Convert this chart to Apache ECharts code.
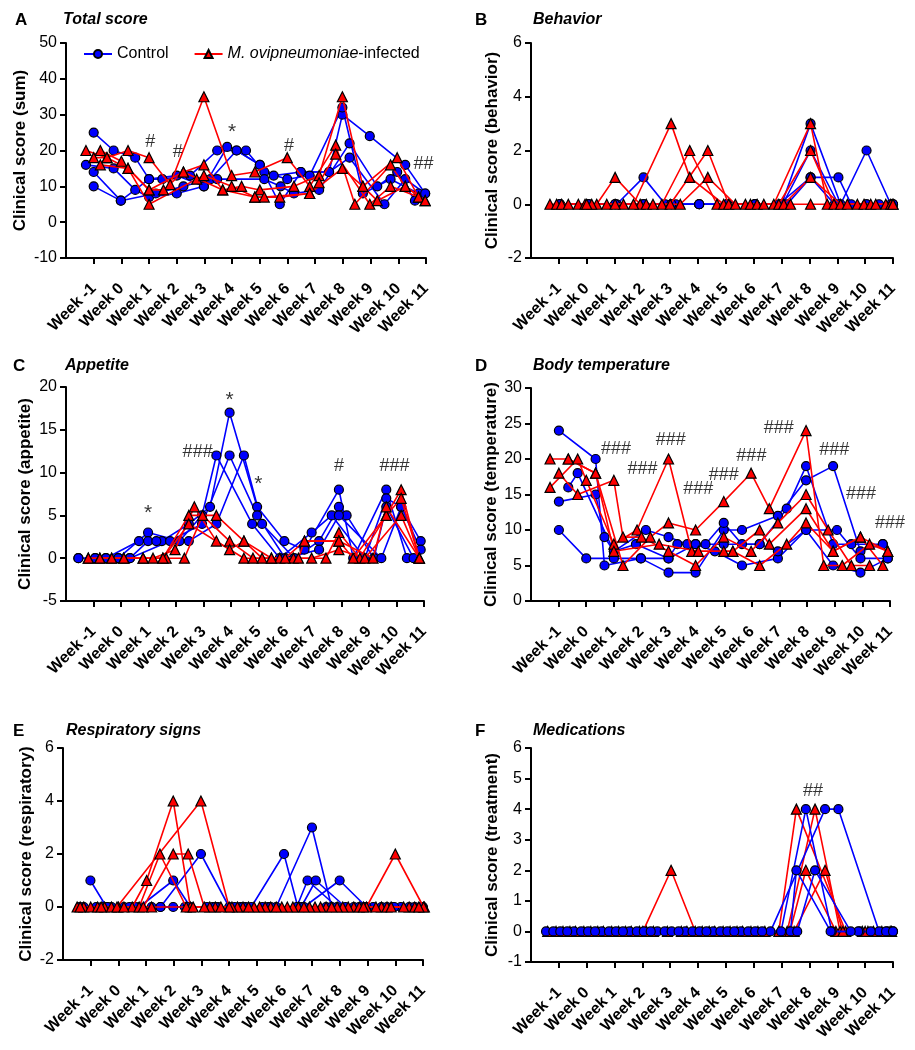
<!DOCTYPE html>
<html><head><meta charset="utf-8">
<script src="https://cdn.jsdelivr.net/npm/echarts@6/dist/echarts.min.js"></script>
<style>html,body{margin:0;padding:0;background:#fff}#chart{width:915px;height:1050px}</style>
</head><body><div id="chart"></div>
<script>
// ---------- tick labels ----------
const weekLabels = ['Week -1','Week 0','Week 1','Week 2','Week 3','Week 4','Week 5','Week 6','Week 7','Week 8','Week 9','Week 10','Week 11'];
const weekTicks = [1,2,3,4,5,6,7,8,9,10,11,12,13];
const groupNames = ['Control','M. ovipneumoniae-infected'];

// ---------- A: total score ----------
const totalControl = [
  [[1.0,25],[1.72,20],[2.5,18],[3.0,12],[3.48,12],[4.48,13],[5.46,20],[6.16,20],[7.0,16],[7.5,13],[8.48,14],[9.5,14],[9.98,30],[10.97,24],[12.25,16],[12.97,8]],
  [[0.72,16],[1.72,15],[2.5,9],[3.0,7],[4.0,8],[4.98,10],[5.82,21],[6.5,20],[7.16,14],[7.99,12],[8.8,13],[9.98,32],[10.72,8],[11.72,12],[12.73,8]],
  [[1.0,14],[1.98,6],[3.24,8],[4.24,10],[5.22,12],[5.46,12],[7.16,12],[7.75,10],[8.23,8],[9.14,9],[10.24,22],[11.24,10],[11.96,14],[12.6,6]],
  [[1.0,10],[1.98,6],[3.0,12],[4.0,13],[4.98,10],[6.16,20],[7.0,16],[7.72,5],[8.48,14],[9.5,14],[10.24,18],[11.5,5],[12.25,12],[12.97,8]]
];
const totalInfected = [
  [[0.72,20],[1.48,18],[2.24,20],[3.0,18],[3.76,10.5],[4.98,35],[5.98,13],[6.82,14],[7.99,18],[8.8,10],[9.74,21.5],[10.43,5],[11.72,16],[12.25,10],[12.97,6]],
  [[1.24,20],[2.0,17],[3.0,9],[3.52,9],[4.24,14],[4.98,16],[5.66,9],[6.34,10],[7.0,9],[8.23,10],[9.14,13],[9.98,35],[10.72,10],[11.96,18],[12.73,7]],
  [[1.24,16],[2.24,15],[3.0,5],[4.72,12],[4.98,13],[5.98,10],[6.82,7],[7.72,7],[8.8,8],[9.14,11],[9.74,19],[10.97,5],[11.72,10],[12.73,7]],
  [[1.0,18],[1.48,18],[2.24,15],[3.0,9],[4.24,14],[5.66,9],[6.82,7],[7.16,7],[8.8,8],[9.98,15],[10.72,10],[11.24,6],[12.25,10],[12.97,6]]
];
const totalMarks = [[3.04,22.3,'#'],[4.04,19.5,'#'],[6.0,25.0,'*'],[8.05,21.2,'#'],[12.91,16.1,'##']];

// ---------- B: behavior ----------
const behaviorControl = [
  [[1.04,0],[2.06,0],[3.08,0],[4.04,1],[4.82,0],[6.04,0],[7.1,0],[8.04,0],[9.0,0],[10.04,3],[11.12,0],[12.05,2],[12.92,0]],
  [[1.04,0],[2.06,0],[3.02,0],[4.04,0],[5.2,0],[6.04,0],[7.04,0],[8.04,0],[9.04,0],[10.04,2],[11.04,0],[12.05,0],[13.0,0]],
  [[1.04,0],[2.06,0],[3.02,0],[4.04,0],[5.04,0],[6.04,0],[7.04,0],[8.04,0],[8.9,0],[10.04,1],[11.04,1],[11.5,0],[12.5,0],[13.0,0]],
  [[1.04,0],[2.06,0],[3.02,0],[4.04,0],[5.04,0],[6.04,0],[7.04,0],[8.04,0],[9.2,0],[10.04,1],[10.9,0],[12.05,0],[13.0,0]]
];
const behaviorInfected = [
  [[0.68,0],[1.70,0],[2.36,0],[3.02,1],[3.92,0],[4.70,0],[5.7,2],[6.68,0],[7.70,0],[8.72,0],[10.04,3],[10.64,0],[11.72,0],[12.74,0]],
  [[0.92,0],[1.94,0],[2.72,0],[3.68,0],[5.03,3],[5.7,1],[6.92,0],[7.88,0],[8.9,0],[10.04,2],[10.88,0],[11.96,0],[12.92,0]],
  [[1.1,0],[2.18,0],[3.32,0],[4.14,0],[5.0,0],[6.35,2],[7.1,0],[8.12,0],[9.08,0],[10.04,1],[11.12,0],[12.2,0],[13.0,0]],
  [[1.34,0],[2.0,0],[3.02,0],[4.38,0],[5.36,0],[6.35,1],[7.34,0],[8.36,0],[9.32,0],[10.04,0],[11.36,0],[12.38,0],[13.0,0]]
];
const behaviorMarks = [];

// ---------- C: appetite ----------
const appetiteControl = [
  [[0.45,0],[1.45,0],[2.65,2],[3.48,2],[4.46,4],[5.23,6],[5.94,17],[6.94,6],[7.93,2],[8.66,1],[9.91,8],[10.43,0],[11.63,8],[12.38,0]],
  [[1.06,0],[1.9,0],[2.98,3],[4.12,2],[4.94,5],[5.46,12],[6.76,4],[7.76,0],[8.92,3],[9.65,5],[10.85,0],[11.63,7],[12.17,6],[12.88,2]],
  [[0.45,0],[1.45,0],[2.32,0],[2.98,2],[3.28,2],[4.46,2],[5.46,4],[6.46,12],[7.12,4],[8.29,0],[9.19,2],[9.91,6],[10.19,5],[11.18,0],[11.63,6],[12.62,0]],
  [[1.06,0],[1.9,0],[2.32,0],[3.78,2],[4.94,4],[5.94,12],[6.94,5],[7.96,0],[9.19,1],[9.91,5],[11.45,0],[12.17,6],[12.88,1]]
];
const appetiteInfected = [
  [[0.81,0],[1.66,0],[2.8,0],[3.52,0],[4.46,5],[5.46,5],[6.46,2],[7.12,0],[8.26,0],[9.44,0],[9.91,3],[10.67,0],[11.63,5],[12.17,8],[12.83,0]],
  [[1.23,0],[2.1,0],[3.16,0],[3.96,1],[4.66,6],[5.46,2],[6.46,0],[7.46,0],[8.44,0],[8.66,2],[9.91,2],[10.43,0],[11.63,5],[12.17,7],[12.83,0]],
  [[0.81,0],[1.66,0],[2.8,0],[3.64,0],[4.3,0],[4.96,5],[5.94,2],[6.79,0],[7.76,0],[8.92,0],[9.91,1],[10.85,0],[12.17,5],[12.83,0]],
  [[1.23,0],[2.1,0],[3.52,0],[4.46,4],[5.94,1],[6.46,2],[7.46,0],[7.96,0],[8.66,2],[9.91,2],[11.15,0],[11.63,6],[12.83,0]]
];
const appetiteMarks = [[2.98,5.2,'*'],[4.78,12.4,'###'],[5.94,18.4,'*'],[6.98,8.6,'*'],[9.91,10.8,'#'],[11.93,10.8,'###']];

// ---------- D: body temperature ----------
const temperatureControl = [
  [[1.01,24],[2.34,20],[2.66,5],[3.98,6],[4.98,4],[5.96,4],[6.98,10],[7.64,10],[8.94,12],[9.96,17],[10.94,19],[11.93,7],[12.74,8]],
  [[1.01,14],[2.34,15],[2.66,9],[3.0,7],[4.16,10],[4.98,9],[5.66,8],[6.32,8],[6.98,11],[7.64,8],[8.28,8],[9.26,13],[9.96,19],[10.94,8],[11.6,8],[12.74,8]],
  [[1.01,10],[2.0,6],[3.0,6],[3.98,6],[4.98,6],[5.3,8],[5.96,8],[6.66,7],[7.64,5],[8.94,6],[9.96,10],[10.94,5],[11.93,4],[12.92,6]],
  [[1.35,16],[1.69,18],[3.0,7],[3.8,8],[4.98,6],[5.96,8],[6.98,8],[8.28,8],[8.94,7],[9.96,10],[11.08,10],[11.93,6],[12.92,6]]
];
const temperatureInfected = [
  [[0.69,16],[1.69,20],[2.0,17],[3.0,8],[3.84,10],[4.98,20],[5.82,7],[6.98,7],[7.31,7],[8.28,5],[9.26,8],[9.96,11],[10.94,7],[11.93,9],[12.74,5]],
  [[0.69,20],[1.35,20],[2.34,18],[3.33,5],[4.32,9],[4.98,11],[5.96,10],[6.98,14],[7.97,18],[8.63,13],[9.96,24],[10.6,5],[11.27,5],[12.26,8],[12.92,7]],
  [[1.01,18],[1.69,15],[3.0,17],[3.33,9],[4.0,9],[4.98,7],[5.96,5],[6.98,9],[7.97,7],[8.94,11],[9.96,15],[10.76,10],[11.6,5],[12.26,5]],
  [[1.35,20],[2.34,18],[3.0,7],[4.64,8],[6.06,7],[7.31,7],[8.28,10],[8.63,8],[9.96,13],[10.94,7],[11.93,9],[12.92,7]]
];
const temperatureMarks = [[3.08,21.4,'###'],[4.04,18.6,'###'],[5.06,22.7,'###'],[6.06,15.7,'###'],[6.98,17.7,'###'],[7.98,20.4,'###'],[8.97,24.3,'###'],[10.98,21.2,'###'],[11.95,15.1,'###'],[13.0,11.0,'###']];

// ---------- E: respiratory signs ----------
const respiratoryControl = [
  [[0.99,1],[1.57,0],[2.55,0],[3.52,0],[4.98,2],[6.0,0],[6.8,0],[7.98,2],[8.48,0],[9.5,0],[10.5,0],[11.5,0],[12.5,0],[13.0,0]],
  [[0.75,0],[1.75,0],[2.75,0],[3.98,1],[4.6,0],[5.6,0],[6.6,0],[7.7,0],[8.99,3],[9.7,0],[10.7,0],[11.7,0],[12.7,0]],
  [[1.2,0],[2.2,0],[3.2,0],[3.98,0],[5.2,0],[6.2,0],[7.2,0],[8.44,0],[8.83,1],[9.9,0],[10.9,0],[11.9,0],[12.9,0]],
  [[1.4,0],[2.4,0],[3.52,0],[4.4,0],[5.4,0],[6.4,0],[7.4,0],[8.6,0],[9.13,1],[10.2,0],[11.2,0],[12.2,0]],
  [[0.6,0],[1.6,0],[2.6,0],[4.5,0],[5.5,0],[6.5,0],[7.5,0],[8.7,0],[9.99,1],[10.96,0],[11.96,0],[12.96,0]]
];
const respiratoryInfected = [
  [[0.51,0],[1.5,0],[2.5,0],[3.02,1],[3.98,4],[4.6,0],[5.5,0],[6.5,0],[7.5,0],[8.5,0],[9.5,0],[10.5,0],[11.5,0],[12.5,0]],
  [[0.75,0],[1.75,0],[2.75,0],[3.5,2],[4.45,0],[5.3,0],[6.3,0],[7.3,0],[8.3,0],[9.3,0],[10.3,0],[11.3,0],[12.3,0],[13.05,0]],
  [[1.0,0],[2.0,0],[2.9,0],[3.98,2],[4.52,2],[5.1,0],[6.1,0],[7.1,0],[8.1,0],[9.1,0],[10.1,0],[10.96,0],[12.0,2],[13.02,0]],
  [[1.25,0],[1.95,0],[4.98,4],[6.0,0],[6.9,0],[7.9,0],[8.9,0],[9.9,0],[10.7,0],[11.7,0],[12.7,0]],
  [[0.62,0],[1.38,0],[2.2,0],[3.2,0],[4.7,0],[5.7,0],[6.7,0],[7.7,0],[8.7,0],[9.7,0],[10.85,0],[11.85,0],[12.85,0]]
];
const respiratoryMarks = [];

// ---------- F: medications ----------
const medicationControl = [
  [[0.54,0],[1.54,0],[2.54,0],[3.54,0],[4.54,0],[5.54,0],[6.54,0],[7.54,0],[8.6,0],[10.56,4],[11.04,4],[12.5,0],[13.0,0]],
  [[0.8,0],[1.8,0],[2.8,0],[3.8,0],[4.8,0],[5.8,0],[6.8,0],[7.8,0],[8.98,0],[9.87,4],[10.8,0],[11.8,0],[12.8,0]],
  [[1.05,0],[2.05,0],[3.05,0],[4.05,0],[5.05,0],[6.05,0],[7.05,0],[8.05,0],[9.32,0],[9.53,2],[10.76,0],[11.75,0],[12.75,0]],
  [[1.3,0],[2.3,0],[3.3,0],[4.3,0],[5.3,0],[6.3,0],[7.3,0],[8.3,0],[9.56,0],[10.2,2],[11.48,0],[12.2,0],[13.0,0]]
];
const medicationInfected = [
  [[0.6,0],[1.6,0],[2.6,0],[3.6,0],[4.02,0],[5.03,2],[5.9,0],[6.9,0],[7.9,0],[8.9,0],[9.53,4],[11.3,0],[12.3,0]],
  [[0.9,0],[1.9,0],[2.9,0],[3.9,0],[4.9,0],[5.6,0],[6.6,0],[7.6,0],[9.2,0],[10.2,4],[11.1,0],[12.1,0],[12.9,0]],
  [[1.15,0],[2.15,0],[3.15,0],[4.15,0],[6.15,0],[7.15,0],[8.15,0],[9.3,0],[9.87,2],[10.95,0],[11.9,0],[12.6,0]],
  [[1.4,0],[2.4,0],[3.4,0],[4.4,0],[5.4,0],[6.4,0],[7.4,0],[8.4,0],[9.45,0],[10.56,2],[11.2,0],[12.0,0],[12.95,0]]
];
const medicationMarks = [[10.13,4.6,'##']];

// ---------- layout / styling ----------
const FONT = 'Arial, "Liberation Sans", Helvetica, sans-serif';
const BLUE = '#0000ff', RED = '#ff0000';
const panels = [
  {letter:'A', title:'Total score', yName:'Clinical score (sum)', grid:{left:66,top:43,width:360,height:215}, yMin:-10,yMax:50,yInt:10, ctrl:totalControl, inf:totalInfected, marks:totalMarks, nameGap:37, lx:15, tx:63, ty:12, ctrlTop:false},
  {letter:'B', title:'Behavior', yName:'Clinical score (behavior)', grid:{left:531,top:43,width:362,height:215}, yMin:-2,yMax:6,yInt:2, ctrl:behaviorControl, inf:behaviorInfected, marks:behaviorMarks, nameGap:30, lx:475, tx:533, ty:12, ctrlTop:false},
  {letter:'C', title:'Appetite', yName:'Clinical score (appetite)', grid:{left:66,top:387,width:358,height:214}, yMin:-5,yMax:20,yInt:5, ctrl:appetiteControl, inf:appetiteInfected, marks:appetiteMarks, nameGap:32, lx:13, tx:65, ty:358, ctrlTop:false},
  {letter:'D', title:'Body temperature', yName:'Clinical score (temperature)', grid:{left:531,top:388,width:359,height:213}, yMin:0,yMax:30,yInt:5, ctrl:temperatureControl, inf:temperatureInfected, marks:temperatureMarks, nameGap:31, lx:475, tx:533, ty:358, ctrlTop:false},
  {letter:'E', title:'Respiratory signs', yName:'Clinical score (respiratory)', grid:{left:63,top:748,width:360,height:212}, yMin:-2,yMax:6,yInt:2, ctrl:respiratoryControl, inf:respiratoryInfected, marks:respiratoryMarks, nameGap:28, lx:13, tx:66, ty:723, ctrlTop:false},
  {letter:'F', title:'Medications', yName:'Clinical score (treatment)', grid:{left:531,top:748,width:362,height:214}, yMin:-1,yMax:6,yInt:1, ctrl:medicationControl, inf:medicationInfected, marks:medicationMarks, nameGap:30, lx:475, tx:533, ty:723, ctrlTop:true}
];

const option = {
  animation:false,
  backgroundColor:'#fff',
  textStyle:{fontFamily:FONT},
  title:[], grid:[], xAxis:[], yAxis:[], series:[],
  legend:{
    data:groupNames, left:83, top:46, padding:0, itemWidth:28, itemHeight:10, itemGap:25, selectedMode:false,
    textStyle:{fontSize:16, color:'#000', fontFamily:FONT, rich:{i:{fontSize:16, fontStyle:'italic', color:'#000', fontFamily:FONT}}},
    formatter: n => n === groupNames[1] ? '{i|M. ovipneumoniae}-infected' : n
  }
};

panels.forEach((p, i) => {
  option.title.push({text:p.letter, left:p.lx, top:p.ty, padding:0, textStyle:{fontSize:17, fontWeight:'bold', color:'#000', fontFamily:FONT}});
  option.title.push({text:p.title, left:p.tx, top:p.ty, padding:0, textStyle:{fontSize:16, fontWeight:'bold', fontStyle:'italic', color:'#000', fontFamily:FONT}});
  option.grid.push(Object.assign({containLabel:false}, p.grid));
  option.xAxis.push({
    gridIndex:i, type:'value', min:0, max:13, interval:1,
    axisLine:{show:true, onZero:false, lineStyle:{color:'#000', width:2}},
    axisTick:{show:true, customValues:weekTicks, length:6, lineStyle:{color:'#000', width:2}},
    axisLabel:{show:true, customValues:weekTicks, rotate:45, margin:28, fontSize:16, fontWeight:'bold', color:'#000', fontFamily:FONT,
      formatter: v => { const k = weekTicks.indexOf(v); return k >= 0 ? weekLabels[k] : ''; }},
    splitLine:{show:false}
  });
  option.yAxis.push({
    gridIndex:i, type:'value', min:p.yMin, max:p.yMax, interval:p.yInt,
    name:p.yName, nameLocation:'middle', nameGap:p.nameGap,
    nameTextStyle:{fontSize:17, fontWeight:'bold', color:'#000', fontFamily:FONT},
    axisLine:{show:true, onZero:false, lineStyle:{color:'#000', width:2}},
    axisTick:{show:true, length:6, lineStyle:{color:'#000', width:2}},
    axisLabel:{fontSize:16, color:'#000', margin:9, fontFamily:FONT},
    splitLine:{show:false}
  });
  const mk = (data, isCtrl) => ({
    type:'line', name: isCtrl ? groupNames[0] : groupNames[1], xAxisIndex:i, yAxisIndex:i, data,
    symbol: isCtrl ? 'circle' : 'triangle', symbolSize: isCtrl ? 9 : 10, showSymbol:true, showAllSymbol:true,
    lineStyle:{color: isCtrl ? BLUE : RED, width:1.6},
    itemStyle:{color: isCtrl ? BLUE : RED, borderColor:'#000', borderWidth:1.2},
    emphasis:{disabled:true}, clip:false,
    z: (isCtrl === p.ctrlTop) ? 4 : 3
  });
  p.ctrl.forEach(d => option.series.push(mk(d, true)));
  p.inf.forEach(d => option.series.push(mk(d, false)));
  if (p.marks.length) {
    option.series.push({
      type:'scatter', name:'marks'+i, xAxisIndex:i, yAxisIndex:i, silent:true, symbolSize:1,
      itemStyle:{color:'rgba(0,0,0,0)'}, z:10,
      label:{show:true, position:'inside', formatter:'{b}', fontSize:18, color:'#000', fontFamily:FONT},
      data: p.marks.map(m => ({name:m[2], value:[m[0], m[1]], label: m[2] === '*' ? {fontSize:21} : {}}))
    });
  }
});

const chart = echarts.init(document.getElementById('chart'), null, {renderer:'canvas'});
chart.setOption(option);
</script></body></html>
